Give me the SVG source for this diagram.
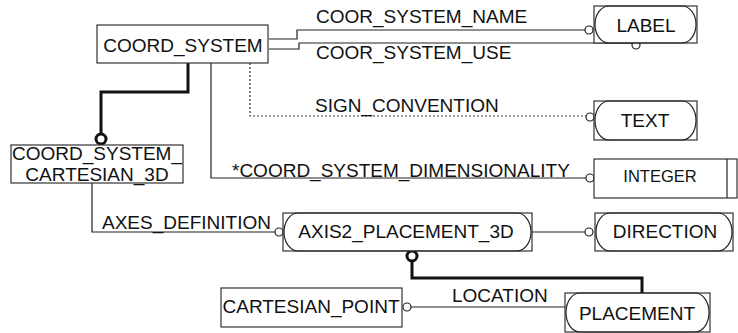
<svg xmlns="http://www.w3.org/2000/svg" width="738" height="333" viewBox="0 0 738 333">
  <style>
    text { font-family: "Liberation Sans", Arial, sans-serif; font-size: 19px; fill: #111; }
    .mid { text-anchor: middle; }
    .box { fill: #fff; stroke: #333; stroke-width: 1.2; }
    .pill { fill: none; stroke: #222; stroke-width: 1.2; }
    .ln { fill: none; stroke: #222; stroke-width: 1.2; }
    .thick { fill: none; stroke: #111; stroke-width: 3; }
    .dot { fill: none; stroke: #333; stroke-width: 1.2; stroke-dasharray: 2 2; }
    .oc { fill: #fff; stroke: #222; stroke-width: 1.2; }
    .toc { fill: #fff; stroke: #111; stroke-width: 3; }
  </style>

  <!-- connectors -->
  <g id="connectors">
    <!-- COOR_SYSTEM_NAME -->
    <polyline class="ln" points="269,39 297,39 297,30 585,30"/>
    <circle class="oc" cx="589" cy="30" r="4"/>
    <text x="316" y="23">COOR_SYSTEM_NAME</text>
    <!-- COOR_SYSTEM_USE -->
    <polyline class="ln" points="269,49 299,49 299,43 632,43"/>
    <circle class="oc" cx="636" cy="45" r="4"/>
    <text x="316" y="59">COOR_SYSTEM_USE</text>
    <!-- SIGN_CONVENTION -->
    <polyline class="dot" points="250,63 250,116 586,116"/>
    <circle class="oc" cx="590" cy="117" r="4"/>
    <text x="315" y="112">SIGN_CONVENTION</text>
    <!-- dimensionality -->
    <polyline class="ln" points="211,63 211,178 586,178"/>
    <circle class="oc" cx="590" cy="178" r="4"/>
    <text x="232" y="177">*COORD_SYSTEM_DIMENSIONALITY</text>
    <!-- subtype -->
    <polyline class="thick" points="188,63 188,92 101,92 101,134"/>
    <circle class="toc" cx="101" cy="139" r="5"/>
    <!-- AXES_DEFINITION -->
    <polyline class="ln" points="92,183 92,232 275,232"/>
    <circle class="oc" cx="279" cy="232" r="4"/>
    <text x="102" y="229">AXES_DEFINITION</text>
    <!-- direction -->
    <line class="ln" x1="532" y1="232" x2="585" y2="232"/>
    <circle class="oc" cx="589" cy="232" r="4"/>
    <!-- placement supertype -->
    <polyline class="thick" points="412,261 412,278 642,278 642,293"/>
    <circle class="toc" cx="412" cy="256" r="5"/>
    <!-- LOCATION -->
    <line class="ln" x1="411" y1="307" x2="565" y2="307"/>
    <circle class="oc" cx="407" cy="307" r="4"/>
    <text x="452" y="302">LOCATION</text>
  </g>

  <g id="coord_system">
    <rect class="box" x="97" y="25" width="171" height="38"/>
    <text class="mid" x="183" y="52">COORD_SYSTEM</text>
  </g>

  <g id="label">
    <rect class="box" x="594" y="6" width="103" height="37"/>
    <rect class="pill" x="595" y="6" width="101" height="37" rx="14" ry="18.5"/>
    <text class="mid" x="646" y="32">LABEL</text>
  </g>

  <g id="text_type">
    <rect class="box" x="594" y="101" width="103" height="39"/>
    <rect class="pill" x="595" y="101" width="101" height="39" rx="14" ry="19.5"/>
    <text class="mid" x="645" y="127">TEXT</text>
  </g>

  <g id="integer">
    <rect class="box" x="594" y="159" width="143" height="39"/>
    <line class="ln" x1="727" y1="159" x2="727" y2="198"/>
    <text class="mid" x="660" y="182" style="font-size:16.5px">INTEGER</text>
  </g>

  <g id="coord_system_cartesian_3d">
    <rect class="box" x="11" y="145" width="172" height="38"/>
    <text class="mid" x="97" y="160">COORD_SYSTEM_</text>
    <text class="mid" x="97" y="181">CARTESIAN_3D</text>
  </g>

  <g id="axis2_placement_3d">
    <rect class="box" x="283" y="213" width="249" height="38"/>
    <rect class="pill" x="284" y="213" width="247" height="38" rx="14" ry="19"/>
    <text class="mid" x="406" y="238">AXIS2_PLACEMENT_3D</text>
  </g>

  <g id="direction">
    <rect class="box" x="595" y="213" width="138" height="38"/>
    <rect class="pill" x="596" y="213" width="136" height="38" rx="14" ry="19"/>
    <text class="mid" x="665" y="238">DIRECTION</text>
  </g>

  <g id="cartesian_point">
    <rect class="box" x="221" y="288" width="181" height="39"/>
    <text class="mid" x="311" y="313">CARTESIAN_POINT</text>
  </g>

  <g id="placement">
    <rect class="box" x="565" y="293" width="145" height="39"/>
    <rect class="pill" x="566" y="293" width="143" height="39" rx="14" ry="19.5"/>
    <text class="mid" x="637" y="320">PLACEMENT</text>
  </g>
</svg>
